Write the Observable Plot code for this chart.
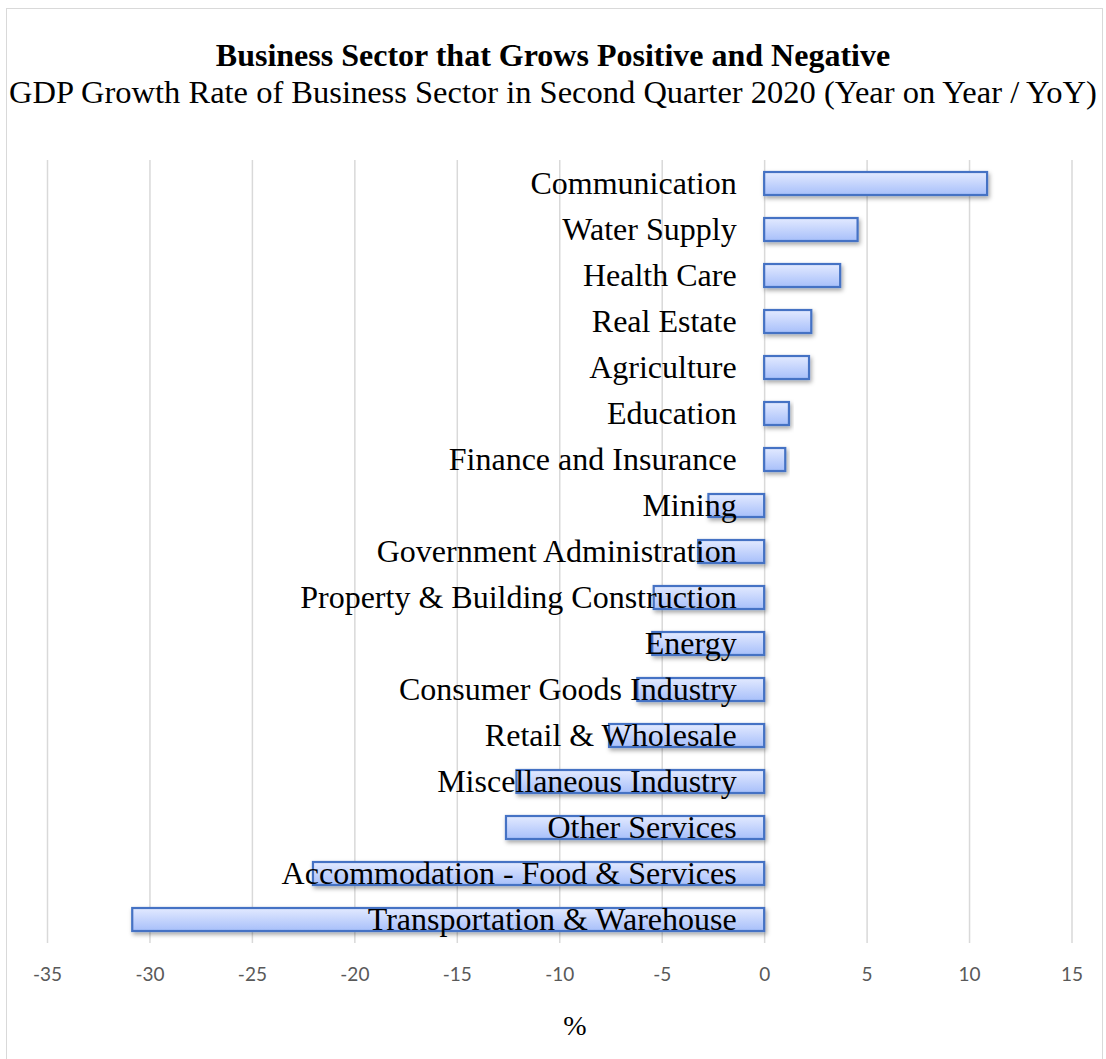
<!DOCTYPE html>
<html>
<head>
<meta charset="utf-8">
<script src="https://cdn.jsdelivr.net/npm/d3@7"></script>
<script src="https://cdn.jsdelivr.net/npm/@observablehq/plot@0.6"></script>
<style>
  html, body { margin: 0; padding: 0; background: #fff; }
  #wrap { position: relative; width: 1106px; height: 1059px; overflow: hidden; background: #fff; }
  #frame { position: absolute; left: 6px; top: 8px; width: 1097px; height: 1070px; border: 1.5px solid #d9d9d9; box-sizing: border-box; }
  #title { position: absolute; left: 0; width: 1106px; top: 39px; text-align: center; font-family: "Liberation Serif", "Times New Roman", serif; font-weight: bold; font-size: 32px; color: #000; line-height: 1; white-space: nowrap; }
  #subtitle { position: absolute; left: 0; width: 1106px; top: 76px; text-align: center; font-family: "Liberation Serif", "Times New Roman", serif; font-size: 32.5px; color: #000; line-height: 1; white-space: nowrap; }
  #chart { position: absolute; left: 0; top: 130px; }
  #xlabel { position: absolute; left: 0; width: 1150px; top: 1012px; text-align: center; font-family: "Liberation Serif", "Times New Roman", serif; font-size: 28px; color: #000; line-height: 1; }
</style>
</head>
<body>
<div id="wrap">
  <div id="frame"></div>
  <div id="title">Business Sector that Grows Positive and Negative</div>
  <div id="subtitle">GDP Growth Rate of Business Sector in Second Quarter 2020 (Year on Year / YoY)</div>
  <div id="chart"></div>
  <div id="xlabel">%</div>
</div>
<script>
const sectors = [
  "Communication",
  "Water Supply",
  "Health Care",
  "Real Estate",
  "Agriculture",
  "Education",
  "Finance and Insurance",
  "Mining",
  "Government Administration",
  "Property & Building Construction",
  "Energy",
  "Consumer Goods Industry",
  "Retail & Wholesale",
  "Miscellaneous Industry",
  "Other Services",
  "Accommodation - Food & Services",
  "Transportation & Warehouse"
];
const growth = [10.88, 4.56, 3.71, 2.30, 2.19, 1.21, 1.03, -2.72, -3.22, -5.39, -5.46, -6.19, -7.57, -12.09, -12.60, -22.02, -30.84];
const xTicks = [-35, -30, -25, -20, -15, -10, -5, 0, 5, 10, 15];

const data = sectors.map((s, i) => ({sector: s, value: growth[i]}));

const chart = Plot.plot({
  width: 1106,
  height: 929,
  marginTop: 30,
  marginBottom: 116,
  marginLeft: 47,
  marginRight: 34.5,
  style: {background: "transparent", overflow: "visible"},
  x: {domain: [-35, 15], ticks: xTicks},
  y: {domain: sectors, paddingInner: 0.5, paddingOuter: 0.25, axis: null},
  marks: [
    Plot.gridX(xTicks, {stroke: "#d9d9d9", strokeOpacity: 1, strokeWidth: 1.5}),
    Plot.axisX(xTicks, {tickSize: 0, tickPadding: 24, fontSize: 19, fontFamily: "Lato, 'Open Sans', sans-serif", fill: "#595959", label: null, tickFormat: d => String(d)}),
    Plot.barX(data, {x: "value", y: "sector", fill: "url(#barGrad)", stroke: "#4472c4", strokeWidth: 2.2}),
    Plot.text(data, {x: () => 0, y: "sector", text: "sector", textAnchor: "end", dx: -28, fontSize: 32, fontFamily: "'Liberation Serif', 'Times New Roman', serif", fill: "#000"})
  ]
});

const svg = d3.select(chart);
const defs = svg.insert("defs", ":first-child");
const grad = defs.append("linearGradient").attr("id", "barGrad").attr("x1", 0).attr("y1", 0).attr("x2", 0).attr("y2", 1);
grad.append("stop").attr("offset", "0%").attr("stop-color", "#e3eaff");
grad.append("stop").attr("offset", "100%").attr("stop-color", "#a7bffa");
const filt = defs.append("filter").attr("id", "barShadow").attr("x", "-10%").attr("y", "-30%").attr("width", "130%").attr("height", "180%");
filt.append("feDropShadow").attr("dx", 1.5).attr("dy", 2.5).attr("stdDeviation", 2).attr("flood-color", "#000").attr("flood-opacity", 0.35);
svg.selectAll("g[aria-label='bar'] rect").attr("filter", "url(#barShadow)");

document.getElementById("chart").appendChild(chart);
</script>
</body>
</html>
